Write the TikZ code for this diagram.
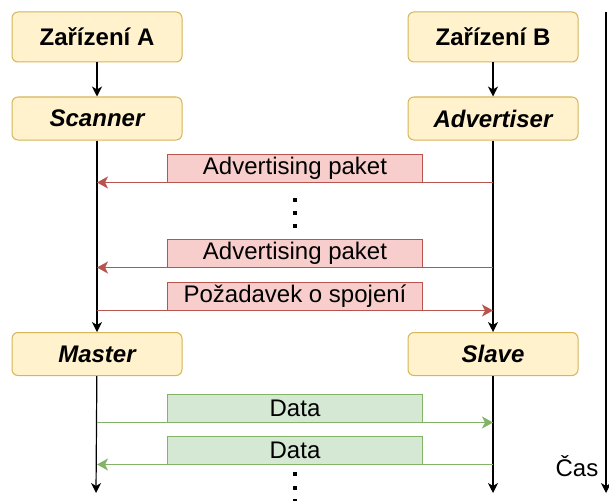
\documentclass[tikz,border=0pt]{standalone}
\usepackage{fontspec}
\setmainfont{Liberation Sans}
\usetikzlibrary{arrows.meta}
\usetikzlibrary{positioning}
\usetikzlibrary{calc}
\definecolor{devfill}{HTML}{FFF2CC}
\definecolor{devline}{HTML}{D6B656}
\definecolor{advfill}{HTML}{F8CECC}
\definecolor{advline}{HTML}{B85450}
\definecolor{datafill}{HTML}{D5E8D4}
\definecolor{dataline}{HTML}{82B366}
\tikzstyle{device}=[rectangle,rounded corners=6pt,fill=devfill,draw=devline,line width=1pt,minimum width=170pt,minimum height=50pt,inner sep=0pt,font=\fontsize{24}{28}\selectfont\bfseries]
\tikzstyle{role}=[device,minimum height=43pt,font=\fontsize{24}{28}\selectfont\bfseries\itshape]
\tikzstyle{advmsg}=[rectangle,fill=advfill,draw=advline,line width=1pt,minimum width=255pt,minimum height=28pt,inner sep=0pt,font=\fontsize{24}{28}\selectfont]
\tikzstyle{datamsg}=[advmsg,fill=datafill,draw=dataline]
\tikzstyle{lifeline} = [draw,line width=1.2pt,-{Stealth[length=10pt,width=10pt,inset=3pt]}]
\tikzstyle{advedge} = [draw,line width=1.2pt,advline,-{Stealth[length=11pt,width=12pt,inset=3pt]}]
\tikzstyle{dataedge} = [advedge,dataline]
\tikzstyle{dot} = [fill=black,minimum size=4pt,inner sep=0pt]

\begin{document}
\begin{tikzpicture}[x=1pt,y=-1pt]
    \useasboundingbox (0,0) rectangle (609,500);

    \foreach \pos/\name/\label in {{(97,37)/devA/Zařízení A}, {(493,37)/devB/Zařízení B}}
        \node[device] (\name) at \pos {\label};

    \foreach \pos/\name/\label in {{(97,118.5)/scan/Scanner}, {(493,118.5)/adv/Advertiser}, {(97,354)/master/Master}, {(493,354)/slave/Slave}}
        \node[role] (\name) at \pos {\label};

    \foreach \pos/\name/\label in {{(295,168)/pktA/Advertising paket}, {(295,253)/pktB/Advertising paket}, {(295,296)/req/Požadavek o spojení}}
        \node[advmsg] (\name) at \pos {\label};

    \foreach \pos/\name/\label in {{(295,408)/dataA/Data}, {(295,450)/dataB/Data}}
        \node[datamsg] (\name) at \pos {\label};

    \coordinate (endA) at (96,493);
    \coordinate (endB) at (493,493);
    \coordinate (timeTop) at (606,12);
    \coordinate (timeEnd) at (606,493);

    % lifelines
    \foreach \source/ \dest in {devA/scan, devB/adv, scan/master, adv/slave}
        \path[lifeline] (\source) -- (\dest);
    \path[lifeline] (master) -- (endA);
    \path[lifeline] (slave) -- (endB);
    \path[lifeline] (timeTop) -- (timeEnd);
    \node[font=\fontsize{24}{28}\selectfont] (cas) at (577,466) {Čas};

    % messages
    \foreach \msg in {pktA, pktB}
        \path[advedge] (adv |- \msg.south) -- (scan |- \msg.south);
    \path[advedge] (scan |- req.south) -- (adv |- req.south);
    \path[dataedge] (master |- dataA.south) -- (slave |- dataA.south);
    \path[dataedge] (slave |- dataB.south) -- (master |- dataB.south);

    % dots
    \foreach \y [count=\i] in {200,213,226,474,488,501}
        \node[dot] (dot\i) at (295,\y) {};
\end{tikzpicture}
\end{document}
